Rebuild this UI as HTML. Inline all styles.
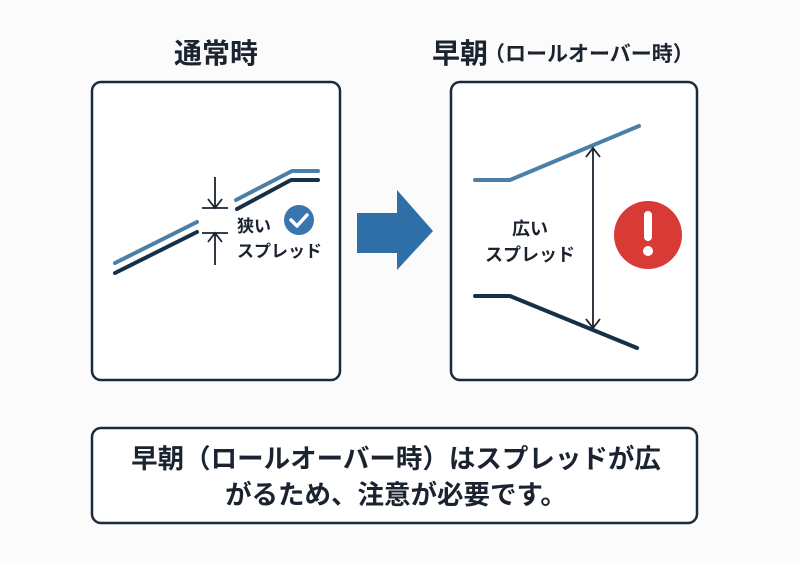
<!DOCTYPE html>
<html><head><meta charset="utf-8"><style>
body{margin:0;background:#fbfbfb;}
svg{display:block}
text{font-family:"Liberation Sans","Noto Sans CJK JP",sans-serif;font-weight:bold;fill:#1c2330}
</style></head><body>
<svg width="800" height="561" viewBox="0 0 800 561">
<rect x="0" y="0" width="800" height="561" fill="#fbfbfb"/>
<text x="216" y="63" font-size="28" text-anchor="middle">通常時</text>
<text x="432" y="63" font-size="28">早朝<tspan font-size="21" dy="-2" dx="-4">（ロールオーバー時）</tspan></text>
<rect x="92" y="82" width="248" height="298" rx="9" fill="#fff" stroke="#1d2a3a" stroke-width="2.5"/>
<rect x="451" y="82" width="246" height="298" rx="9" fill="#fff" stroke="#1d2a3a" stroke-width="2.5"/>
<rect x="92" y="428" width="605" height="95" rx="9" fill="#fff" stroke="#1d2a3a" stroke-width="2.5"/>
<g fill="none" stroke-width="4" stroke-linecap="round" stroke-linejoin="round">
<path d="M115 263 L197 222" stroke="#4a7fa8"/>
<path d="M115 273 L197 232" stroke="#16304a"/>
<path d="M236 200 L292 171 L318 171" stroke="#4a7fa8"/>
<path d="M237 209 L291 180 L318 180" stroke="#16304a"/>
<path d="M475 180 L510 180 L639 126" stroke="#4a7fa8"/>
<path d="M475 296 L510 296 L637 348" stroke="#16304a"/>
</g>
<g fill="none" stroke="#1c2330" stroke-width="1.8">
<path d="M215 177 L215 208 M208 199 L215 208 L222 199 M202 208 L228 208"/>
<path d="M215 265 L215 233 M208 242 L215 233 L222 242 M202 233 L228 233"/>
<path d="M593 148 L593 328 M586 157 L593 148 L600 157 M586 319 L593 328 L600 319"/>
</g>
<text x="237" y="232" font-size="17">狭い</text>
<text x="237" y="257" font-size="17">スプレッド</text>
<circle cx="299" cy="220" r="15" fill="#3a76ad"/>
<path d="M291 220 L297 226 L307 215" fill="none" stroke="#fff" stroke-width="3.5" stroke-linecap="round" stroke-linejoin="round"/>
<text x="530" y="235" font-size="18" text-anchor="middle">広い</text>
<text x="530" y="261" font-size="18" text-anchor="middle">スプレッド</text>
<circle cx="648" cy="235" r="34" fill="#d83a35"/>
<rect x="644" y="211" width="8" height="30" rx="4" fill="#fff"/>
<circle cx="648" cy="251" r="5" fill="#fff"/>
<path d="M357 213 L397 213 L397 190 L433 231 L397 270 L397 253 L357 253 Z" fill="#2f6fa7"/>
<text x="396" y="468" font-size="26.5" text-anchor="middle">早朝（ロールオーバー時）はスプレッドが広</text>
<text x="396" y="504" font-size="26.5" text-anchor="middle">がるため、注意が必要です。</text>
</svg>
</body></html>
